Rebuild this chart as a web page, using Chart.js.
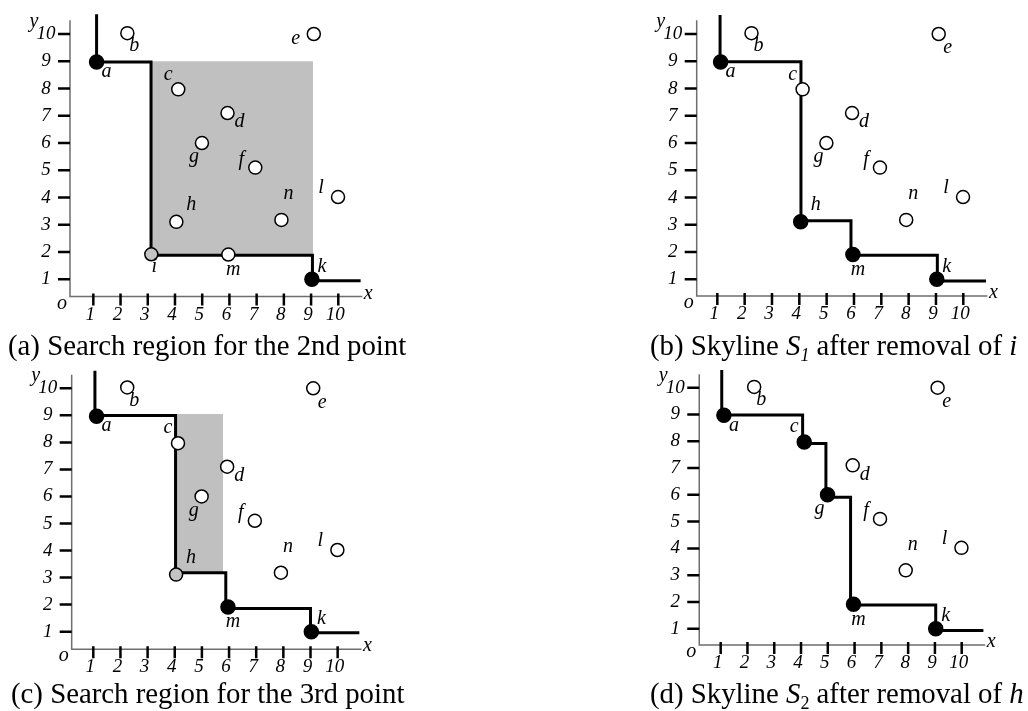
<!DOCTYPE html>
<html>
<head>
<meta charset="utf-8">
<script src="https://cdn.jsdelivr.net/npm/chart.js@4.4.0/dist/chart.umd.min.js"></script>
<style>
  html, body { margin: 0; padding: 0; background: #fff; }
  body { width: 1028px; height: 711px; position: relative; overflow: hidden;
         font-family: "Liberation Serif", "Times New Roman", serif; color: #000; }
  canvas { position: absolute; }
  .cap { position: absolute; font-size: 28.8px; line-height: 30px; white-space: nowrap; z-index: 2; }
  .cap sub { font-size: 18px; line-height: 0; vertical-align: -6px; }
</style>
</head>
<body>
<canvas id="pa"></canvas>
<canvas id="pb"></canvas>
<canvas id="pc"></canvas>
<canvas id="pd"></canvas>
<div class="cap" style="left:8px;top:330px">(a) Search region for the 2nd point</div>
<div class="cap" style="left:650px;top:330px">(b) Skyline <i>S</i><sub><i>1</i></sub> after removal of <i>i</i></div>
<div class="cap" style="left:11px;top:678px">(c) Search region for the 3rd point</div>
<div class="cap" style="left:650px;top:678px">(d) Skyline <i>S</i><sub>2</sub> after removal of <i>h</i></div>
<script>
// points of the data set
const pointNames = ['a', 'b', 'c', 'd', 'e', 'f', 'g', 'h', 'i', 'k', 'l', 'm', 'n'];
const pointX = [1.12, 2.25, 4.12, 5.93, 9.1, 6.95, 4.99, 4.05, 3.13, 9.03, 9.99, 5.96, 7.91];
const pointY = [8.97, 10.03, 7.97, 7.1, 10.0, 5.1, 6.0, 3.11, 1.92, 1.0, 4.02, 1.91, 3.18];

// axis ticks
const tickValues = [1, 2, 3, 4, 5, 6, 7, 8, 9, 10];
const xTickLabels = ['1', '2', '3', '4', '5', '6', '7', '8', '9', '10'];
const yTickLabels = ['1', '2', '3', '4', '5', '6', '7', '8', '9', '10'];

// skyline step lines
const skylineAX = [1.12, 1.12, 3.12, 3.12, 9.05, 9.05, 10.82];
const skylineAY = [10.72, 8.97, 8.97, 1.88, 1.88, 0.95, 0.95];
const skylineBX = [1.1, 1.1, 4.06, 4.06, 5.89, 5.89, 9.05, 9.05, 10.83];
const skylineBY = [10.7, 8.98, 8.98, 3.15, 3.15, 1.88, 1.88, 0.94, 0.94];
const skylineCX = [1.06, 1.06, 4.03, 4.03, 5.88, 5.88, 9.0, 9.0, 10.8];
const skylineCY = [10.65, 8.99, 8.99, 3.18, 3.18, 1.86, 1.86, 0.96, 0.96];
const skylineDX = [1.04, 1.04, 4.06, 4.06, 4.93, 4.93, 5.85, 5.85, 9.03, 9.03, 10.81];
const skylineDY = [10.66, 8.98, 8.98, 7.92, 7.92, 5.91, 5.91, 1.89, 1.89, 0.93, 0.93];

// search regions [x1, x2] x [y1, y2]
const regionAX = [3.12, 9.07];
const regionAY = [1.88, 9.0];
const regionCX = [4.05, 5.78];
const regionCY = [3.16, 9.05];

// label offsets in pixels
const labelOffset = {
  a: [10, 10], b: [7, 13], c: [-10, -15], d: [12, 9], e: [9, 14], f: [-14, -8],
  g: [-8, 14], h: [15, -17], i: [3, 12], k: [10, -13], l: [-17, -9], m: [5, 15], n: [7, -26]
};

const panels = [
  { id: 'pa', left: 0, top: 0, w: 420, h: 330, x0: 66.1, kx: 27.22, y0: 306.6, ky: 27.26,
    xmin: 0.143, ymin: 0.37, hidden: [], filled: ['a', 'k'], grey: ['i'],
    lineX: skylineAX, lineY: skylineAY, regX: regionAX, regY: regionAY, over: { e: [-18, 5] } },
  { id: 'pb', left: 620, top: 0, w: 408, h: 330, x0: 690, kx: 27.33, y0: 306.6, ky: 27.26,
    xmin: 0.245, ymin: 0.39, hidden: ['i'], filled: ['a', 'h', 'm', 'k'], grey: [],
    lineX: skylineBX, lineY: skylineBY, regX: null, regY: null, over: {} },
  { id: 'pc', left: 0, top: 355, w: 420, h: 325, x0: 66.15, kx: 27.15, y0: 658.7, ky: 27.04,
    xmin: 0.204, ymin: 0.35, hidden: ['i'], filled: ['a', 'm', 'k'], grey: ['h'],
    lineX: skylineCX, lineY: skylineCY, regX: regionCX, regY: regionCY, over: {} },
  { id: 'pd', left: 620, top: 355, w: 408, h: 325, x0: 693.9, kx: 26.78, y0: 655.5, ky: 26.78,
    xmin: 0.2, ymin: 0.39, hidden: ['i', 'h'], filled: ['a', 'c', 'g', 'm', 'k'], grey: [],
    lineX: skylineDX, lineY: skylineDY, regX: null, regY: null, over: {} }
];

const XMAX = 11.1, YMAX = 10.75, AXIS_TOP = 10.5, AXIS_RIGHT = 10.88;

const skyAxes = {
  id: 'skyAxes',
  beforeDatasetsDraw(chart) {
    const { ctx, scales: { x, y } } = chart;
    const ox = x.getPixelForValue(x.min), oy = y.getPixelForValue(y.min);
    const top = y.getPixelForValue(AXIS_TOP), right = x.getPixelForValue(AXIS_RIGHT);
    ctx.save();
    ctx.strokeStyle = '#6e6e6e';
    ctx.lineWidth = 1.5;
    ctx.beginPath();
    ctx.moveTo(ox, top); ctx.lineTo(ox, oy); ctx.lineTo(right, oy);
    ctx.stroke();
    ctx.strokeStyle = '#000';
    ctx.lineWidth = 2.5;
    ctx.beginPath();
    tickValues.forEach(v => {
      const py = y.getPixelForValue(v);
      ctx.moveTo(ox - 12, py); ctx.lineTo(ox, py);
      const px = x.getPixelForValue(v);
      ctx.moveTo(px, oy - 3); ctx.lineTo(px, oy + 9);
    });
    ctx.stroke();
    ctx.fillStyle = '#000';
    ctx.font = 'italic 19px "Liberation Serif"';
    ctx.textAlign = 'center';
    ctx.textBaseline = 'middle';
    tickValues.forEach((v, i) => {
      ctx.fillText(yTickLabels[i], ox - 24, y.getPixelForValue(v));
      ctx.fillText(xTickLabels[i], x.getPixelForValue(v) - 3, oy + 18);
    });
    ctx.font = 'italic 20px "Liberation Serif"';
    ctx.fillText('o', ox - 8, oy + 7);
    ctx.fillText('x', right + 6, oy - 3);
    ctx.fillText('y', ox - 36, top + 1);
    ctx.restore();
  },
  afterDatasetsDraw(chart, args, opts) {
    const { ctx, scales: { x, y } } = chart;
    ctx.save();
    ctx.fillStyle = '#000';
    ctx.font = 'italic 20px "Liberation Serif"';
    ctx.textAlign = 'center';
    ctx.textBaseline = 'middle';
    pointNames.forEach((n, i) => {
      if (opts.hidden.includes(n)) return;
      const off = opts.over[n] || labelOffset[n];
      ctx.fillText(n, x.getPixelForValue(pointX[i]) + off[0], y.getPixelForValue(pointY[i]) + off[1]);
    });
    ctx.restore();
  }
};

panels.forEach(p => {
  const cv = document.getElementById(p.id);
  cv.width = p.w; cv.height = p.h;
  cv.style.left = p.left + 'px'; cv.style.top = p.top + 'px';

  const pts = [], fills = [], radii = [];
  pointNames.forEach((n, i) => {
    if (p.hidden.includes(n)) return;
    pts.push({ x: pointX[i], y: pointY[i] });
    const f = p.filled.includes(n), g = p.grey.includes(n);
    fills.push(f ? '#000' : g ? '#c4c4c4' : '#fff');
    radii.push(f ? 7 : 6.5);
  });

  const datasets = [];
  if (p.regX) {
    datasets.push({
      data: [{ x: p.regX[0], y: p.regY[1] }, { x: p.regX[1], y: p.regY[1] }],
      fill: { value: p.regY[0] }, backgroundColor: '#c0c0c0',
      borderWidth: 0, pointRadius: 0, order: 3
    });
  }
  datasets.push({
    data: p.lineX.map((v, i) => ({ x: v, y: p.lineY[i] })),
    borderColor: '#000', borderWidth: 3, pointRadius: 0, fill: false,
    borderJoinStyle: 'miter', borderCapStyle: 'butt', tension: 0, order: 2
  });
  datasets.push({
    data: pts, showLine: false, pointRadius: radii, pointBackgroundColor: fills,
    pointBorderColor: '#000', pointBorderWidth: 1.5, order: 1
  });

  new Chart(cv, {
    type: 'line',
    data: { datasets },
    options: {
      responsive: false,
      animation: false,
      events: [],
      layout: {
        padding: {
          left: p.x0 + p.kx * p.xmin - p.left,
          right: p.left + p.w - (p.x0 + p.kx * XMAX),
          top: p.y0 - p.ky * YMAX - p.top,
          bottom: p.top + p.h - (p.y0 - p.ky * p.ymin)
        }
      },
      scales: {
        x: { type: 'linear', min: p.xmin, max: XMAX, display: false },
        y: { type: 'linear', min: p.ymin, max: YMAX, display: false }
      },
      plugins: {
        legend: { display: false },
        tooltip: { enabled: false },
        skyAxes: { hidden: p.hidden, over: p.over }
      }
    },
    plugins: [skyAxes]
  });
});
</script>
</body>
</html>
